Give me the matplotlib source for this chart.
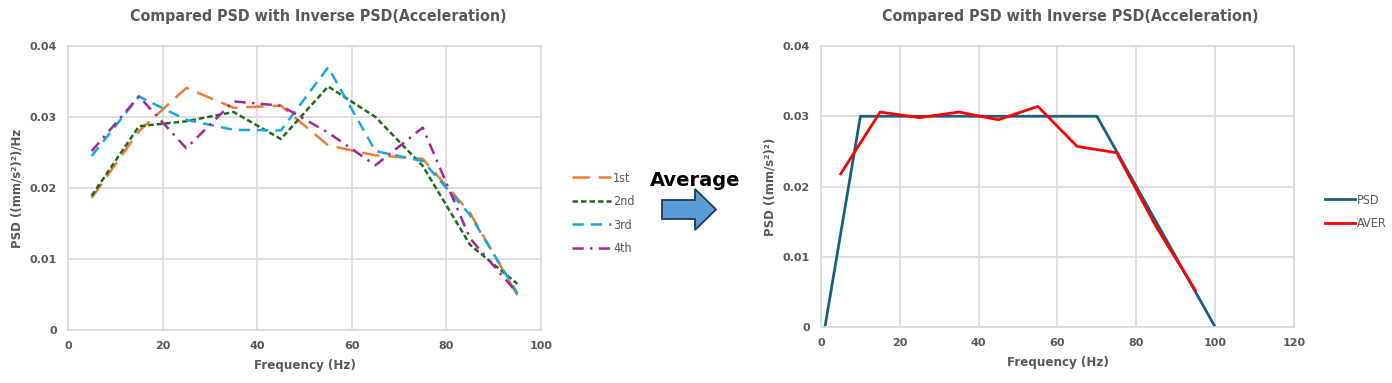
import matplotlib
matplotlib.use("Agg")
import matplotlib.pyplot as plt
from matplotlib.patches import Polygon
from matplotlib.ticker import FuncFormatter

# ---- data ----
freq = [5, 15, 25, 35, 45, 55, 65, 75, 85, 95]
s1st = [0.0186, 0.0280, 0.0341, 0.0313, 0.0316, 0.0260, 0.0246, 0.0241, 0.0165, 0.0049]
s2nd = [0.0189, 0.0287, 0.0294, 0.0307, 0.0269, 0.0343, 0.0300, 0.0231, 0.0120, 0.0065]
s3rd = [0.0245, 0.0329, 0.0296, 0.0282, 0.0281, 0.0370, 0.0252, 0.0238, 0.0162, 0.0052]
s4th = [0.0252, 0.0329, 0.0256, 0.0322, 0.0316, 0.0278, 0.0232, 0.0285, 0.0129, 0.0052]
aver = [0.0218, 0.0306, 0.0298, 0.0306, 0.0295, 0.0314, 0.0257, 0.0248, 0.0143, 0.0052]
psd_freq = [1, 10, 70, 100]
psd_val = [0.0, 0.030, 0.030, 0.0]
yticks = [0, 0.01, 0.02, 0.03, 0.04]
xticks_left = [0, 20, 40, 60, 80, 100]
xticks_right = [0, 20, 40, 60, 80, 100, 120]
title = "Compared PSD with Inverse PSD(Acceleration)"

grey = "#595959"
gridc = "#D9D9D9"

W, H = 1392, 383
fig = plt.figure(figsize=(W / 100, H / 100), dpi=100)
def fx(px): return px / W
def fy(py): return 1 - py / H

def axes_px(x0, y0, x1, y1):
    return fig.add_axes([fx(x0), fy(y1), (x1 - x0) / W, (y1 - y0) / H])

def style(ax, xticks, xlim, ylabel):
    ax.set_xlim(*xlim)
    ax.set_ylim(0, 0.04)
    ax.set_xticks(xticks)
    ax.set_yticks(yticks)
    ax.yaxis.set_major_formatter(FuncFormatter(lambda v, p: "%g" % round(v, 3)))
    ax.grid(True, color=gridc, linewidth=1.2)
    ax.set_axisbelow(True)
    for s in ax.spines.values():
        s.set_color(gridc)
        s.set_linewidth(1.2)
    ax.tick_params(length=0, pad=8, labelsize=8, labelcolor=grey)
    for lab in ax.get_xticklabels() + ax.get_yticklabels():
        lab.set_fontweight("bold")
    ax.set_xlabel("Frequency (Hz)", fontsize=9.5, fontweight="bold", color=grey,
                  fontstretch="condensed", labelpad=6)
    ax.set_ylabel(ylabel, fontsize=8.5, fontweight="bold", color=grey, labelpad=4)

# left chart
ax1 = axes_px(68, 46, 541, 330)
ax1.plot(freq, s1st, color="#ED7D31", lw=1.8, dashes=(7, 3.5), label="1st")
ax1.plot(freq, s2nd, color="#1E6B1E", lw=1.8, dashes=(2.2, 1.2), label="2nd")
ax1.plot(freq, s3rd, color="#1AA7DE", lw=1.8, dashes=(4.5, 2.8), label="3rd")
ax1.plot(freq, s4th, color="#A0289A", lw=1.8, dashes=(4.5, 2.5, 1, 2.5), label="4th")
style(ax1, xticks_left, (0, 100), "PSD ((mm/s²)²)/Hz")
leg1 = ax1.legend(loc="center left", bbox_to_anchor=(fx(560.5), fy(213.5)),
                  bbox_transform=fig.transFigure, frameon=False,
                  handlelength=3.1, handletextpad=0.2, labelspacing=0.85,
                  prop={"size": 9, "stretch": "condensed"})
for t in leg1.get_texts():
    t.set_color(grey)

# right chart
ax2 = axes_px(821, 46, 1294, 327)
ax2.plot(psd_freq, psd_val, color="#1B5F82", lw=2.0, label="PSD")
ax2.plot(freq, aver, color="#FF0000", lw=2.0, label="AVER")
style(ax2, xticks_right, (0, 120), "PSD ((mm/s²)²)")
leg2 = ax2.legend(loc="center left", bbox_to_anchor=(fx(1314), fy(212)),
                  bbox_transform=fig.transFigure, frameon=False,
                  handlelength=2.4, handletextpad=0.1, labelspacing=0.85,
                  prop={"size": 9, "stretch": "condensed"})
for t in leg2.get_texts():
    t.set_color(grey)

# titles, sized to the reference width
renderer = fig.canvas.get_renderer()
for cx, target in [(318, 377), (1070, 375)]:
    t = fig.text(fx(cx), fy(17), title, ha="center", va="center", fontsize=13,
                 fontweight="bold", color=grey, fontstretch="condensed")
    w = t.get_window_extent(renderer).width
    t.set_fontsize(13 * target / w)

# arrow between charts
arrow_pts = [(662, 200), (695, 200), (695, 189), (716, 209.5), (695, 230), (695, 219), (662, 219)]
poly = Polygon([(fx(x), fy(y)) for x, y in arrow_pts], closed=True,
               facecolor="#5B9BD5", edgecolor="#1F3B5C", linewidth=1.3,
               transform=fig.transFigure)
fig.add_artist(poly)
fig.text(fx(695), fy(181), "Average", ha="center", va="center", fontsize=14,
         fontweight="bold", color="black")

fig.savefig("out.png", dpi=100)
